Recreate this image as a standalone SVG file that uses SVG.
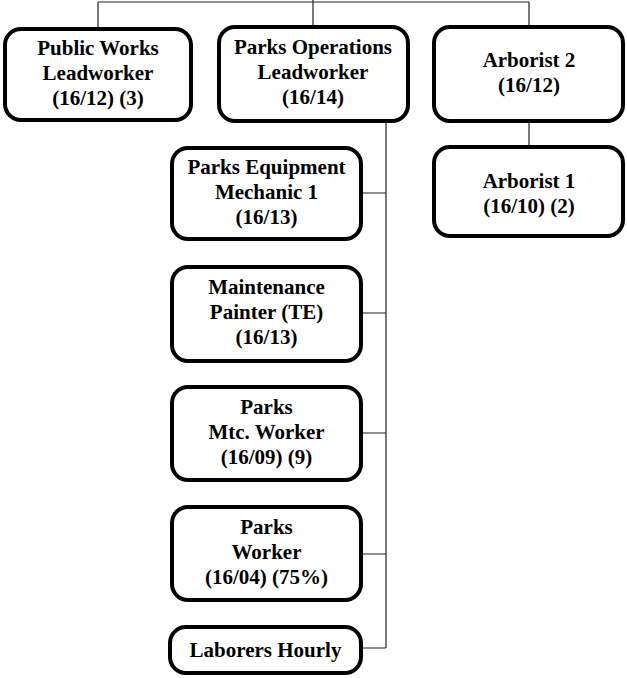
<svg xmlns="http://www.w3.org/2000/svg" width="627" height="678" viewBox="0 0 627 678">
<style>
.box{fill:#fff;stroke:#000;stroke-width:4}
.t{font-family:"Liberation Serif","Times New Roman",serif;font-weight:bold;font-size:21px;text-anchor:middle;fill:#000}
.c{fill:none;stroke:#222;stroke-width:1.2}
</style>
<rect width="627" height="678" fill="#fff"/>
<g id="connectors">
<path class="c" d="M98,2H529M98,2V27M313,0V25M529,2V25M529,123V145"/>
<path class="c" d="M386,123V648M363,193H386M363,313H386M363,433H386M363,554H386M363,648H386"/>
</g>
<g id="n-public-works">
<rect class="box" x="5" y="29" width="186" height="91" rx="16"/>
<text class="t" x="98" y="55">Public Works</text>
<text class="t" x="98" y="80">Leadworker</text>
<text class="t" x="98" y="105">(16/12) (3)</text>
</g>
<g id="n-parks-ops">
<rect class="box" x="219" y="27" width="189" height="94" rx="16"/>
<text class="t" x="313" y="54">Parks Operations</text>
<text class="t" x="313" y="79">Leadworker</text>
<text class="t" x="313" y="104">(16/14)</text>
</g>
<g id="n-arborist2">
<rect class="box" x="434" y="27" width="189" height="94" rx="16"/>
<text class="t" x="529" y="67">Arborist 2</text>
<text class="t" x="529" y="92">(16/12)</text>
</g>
<g id="n-arborist1">
<rect class="box" x="434" y="147" width="189" height="89" rx="16"/>
<text class="t" x="529" y="188">Arborist 1</text>
<text class="t" x="529" y="213">(16/10) (2)</text>
</g>
<g id="n-equip">
<rect class="box" x="172" y="148" width="189" height="91" rx="16"/>
<text class="t" x="266.5" y="174">Parks Equipment</text>
<text class="t" x="266.5" y="199">Mechanic 1</text>
<text class="t" x="266.5" y="224">(16/13)</text>
</g>
<g id="n-painter">
<rect class="box" x="172" y="267" width="189" height="94" rx="16"/>
<text class="t" x="266.5" y="294">Maintenance</text>
<text class="t" x="266.5" y="319">Painter (TE)</text>
<text class="t" x="266.5" y="344">(16/13)</text>
</g>
<g id="n-mtc-worker">
<rect class="box" x="172" y="387" width="189" height="93" rx="16"/>
<text class="t" x="266.5" y="414">Parks</text>
<text class="t" x="266.5" y="439">Mtc. Worker</text>
<text class="t" x="266.5" y="464">(16/09) (9)</text>
</g>
<g id="n-parks-worker">
<rect class="box" x="172" y="507" width="189" height="93" rx="16"/>
<text class="t" x="266.5" y="534">Parks</text>
<text class="t" x="266.5" y="559">Worker</text>
<text class="t" x="266.5" y="584">(16/04) (75%)</text>
</g>
<g id="n-laborers">
<rect class="box" x="170" y="627" width="191" height="46" rx="16"/>
<text class="t" x="265.5" y="657">Laborers Hourly</text>
</g>
</svg>
